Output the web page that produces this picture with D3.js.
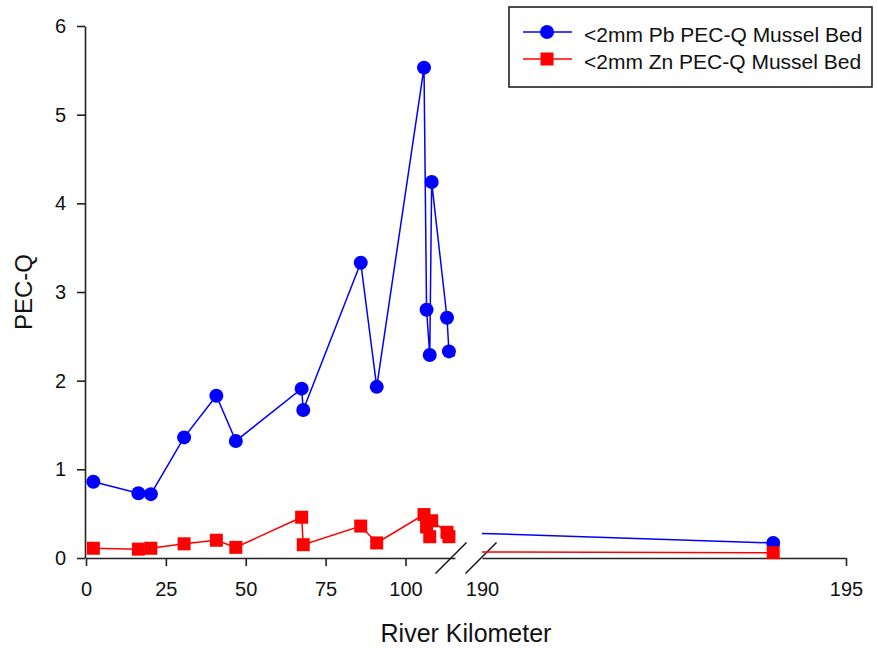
<!DOCTYPE html>
<html><head><meta charset="utf-8">
<script src="https://cdn.jsdelivr.net/npm/d3@7"></script>
<style>
body{margin:0;background:#fff}
text{font-family:"Liberation Sans",Arial,sans-serif;fill:#111}
</style>
</head><body><svg id="c" width="878" height="650"></svg>
<script>
// ---- data ----
const riverKm = [2.3, 16.4, 20.3, 30.7, 40.8, 46.9, 67.5, 68.0, 86.0, 91.0, 105.8, 106.6, 107.6, 108.2, 113.0, 113.6, 194.0];
const pbPecQ  = [0.86, 0.73, 0.72, 1.36, 1.83, 1.32, 1.91, 1.67, 3.33, 1.93, 5.53, 2.80, 2.29, 4.24, 2.71, 2.33, 0.17];
const znPecQ  = [0.11, 0.10, 0.11, 0.16, 0.20, 0.12, 0.46, 0.15, 0.36, 0.17, 0.49, 0.35, 0.24, 0.42, 0.29, 0.24, 0.06];
const yTicks = [0, 1, 2, 3, 4, 5, 6];
const xTicksLeft = [0, 25, 50, 75, 100];
const xTicksRight = [190, 195];
const seriesNames = ["<2mm Pb PEC-Q Mussel Bed", "<2mm Zn PEC-Q Mussel Bed"];
const seriesColors = ["#0000ff", "#ff0000"];
const xTitle = "River Kilometer";
const yTitle = "PEC-Q";

// ---- scales ----
const svg = d3.select("#c");
const y = d3.scaleLinear().domain([0, 6]).range([558, 26]);
const xL = d3.scaleLinear().domain([0, 115.5]).range([86, 455]);
const xR = d3.scaleLinear().domain([190, 195]).range([482, 846]);
const breakKm = 150;
const px = k => k < breakKm ? xL(k) : xR(k);

const axisColor = "#222";

// clip paths for broken axis panels
const defs = svg.append("defs");
defs.append("clipPath").attr("id", "clipL").append("rect")
  .attr("x", xL.range()[0]).attr("y", 0).attr("width", xL.range()[1] - xL.range()[0]).attr("height", 650);
defs.append("clipPath").attr("id", "clipR").append("rect")
  .attr("x", xR.range()[0]).attr("y", 0).attr("width", xR.range()[1] - xR.range()[0]).attr("height", 650);

// ---- axes ----
const yAxis = svg.append("g").attr("transform", `translate(${xL.range()[0] - 1},0)`)
  .call(d3.axisLeft(y).tickValues(yTicks).tickSize(8).tickSizeOuter(0).tickPadding(11).tickFormat(d3.format("d")));
const xAxisL = svg.append("g").attr("transform", `translate(0,${y(0)})`)
  .call(d3.axisBottom(xL).tickValues(xTicksLeft).tickSize(8).tickSizeOuter(0).tickPadding(16).tickFormat(d3.format("d")));
const xAxisR = svg.append("g").attr("transform", `translate(0,${y(0)})`)
  .call(d3.axisBottom(xR).tickValues(xTicksRight).tickSize(8).tickSizeOuter(0).tickPadding(16).tickFormat(d3.format("d")));
xAxisR.selectAll(".tick").filter(d => d === 190).select("line").remove();

[yAxis, xAxisL, xAxisR].forEach(g => {
  g.select(".domain").attr("stroke", axisColor).attr("stroke-width", 1.6);
  g.selectAll(".tick line").attr("stroke", axisColor).attr("stroke-width", 1.6);
  g.selectAll(".tick text").attr("font-size", 20).attr("fill", "#111")
    .style("font-family", '"Liberation Sans",Arial,sans-serif');
});

// break marks
const by = y(0);
[xL.range()[1] - 4, xR.range()[0] - 1].forEach(cx => {
  svg.append("line").attr("x1", cx - 15.5).attr("y1", by + 15.5).attr("x2", cx + 15.5).attr("y2", by - 15.5)
    .attr("stroke", "#111").attr("stroke-width", 1.4);
});

// ---- series ----
const series = [pbPecQ, znPecQ];
series.forEach((vals, si) => {
  const pts = riverKm.map((k, i) => [k, vals[i]]);
  [["clipL", xL], ["clipR", xR]].forEach(([clip, xs]) => {
    svg.append("path").attr("clip-path", `url(#${clip})`)
      .attr("d", d3.line().x(d => xs(d[0])).y(d => y(d[1]))(pts))
      .attr("fill", "none").attr("stroke", seriesColors[si]).attr("stroke-width", 1.5);
  });
});
// markers
svg.append("g").selectAll("circle").data(riverKm.map((k, i) => [k, pbPecQ[i]])).join("circle")
  .attr("cx", d => px(d[0])).attr("cy", d => y(d[1])).attr("r", 7).attr("fill", seriesColors[0]);
svg.append("g").selectAll("rect").data(riverKm.map((k, i) => [k, znPecQ[i]])).join("rect")
  .attr("x", d => px(d[0]) - 6.5).attr("y", d => y(d[1]) - 6.5).attr("width", 13).attr("height", 13)
  .attr("fill", seriesColors[1]);

// ---- titles ----
svg.append("text").attr("x", 466).attr("y", 642).attr("text-anchor", "middle")
  .attr("font-size", 25).text(xTitle);
svg.append("text").attr("transform", "translate(32,292) rotate(-90)").attr("text-anchor", "middle")
  .attr("font-size", 24).text(yTitle);

// ---- legend ----
const lg = svg.append("g");
lg.append("rect").attr("x", 509).attr("y", 7).attr("width", 363).attr("height", 80)
  .attr("fill", "#fff").attr("stroke", axisColor).attr("stroke-width", 1.6);
const rowsY = [32, 59];
seriesNames.forEach((name, i) => {
  const ry = rowsY[i];
  lg.append("line").attr("x1", 523).attr("x2", 572).attr("y1", ry).attr("y2", ry)
    .attr("stroke", seriesColors[i]).attr("stroke-width", 1.5);
  if (i === 0) lg.append("circle").attr("cx", 547).attr("cy", ry).attr("r", 7).attr("fill", seriesColors[i]);
  else lg.append("rect").attr("x", 540.5).attr("y", ry - 6.5).attr("width", 13).attr("height", 13).attr("fill", seriesColors[i]);
  lg.append("text").attr("x", 584).attr("y", ry + 9.5).attr("font-size", 21).text(name);
});
</script>
</body></html>
